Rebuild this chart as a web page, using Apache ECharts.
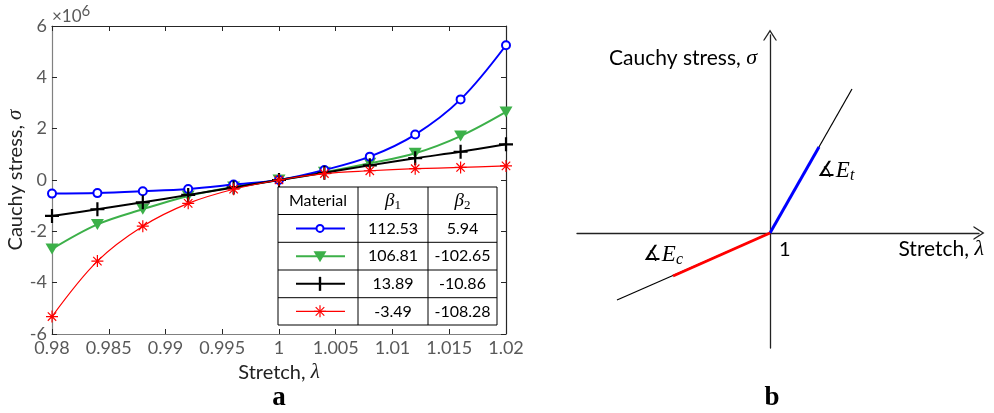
<!DOCTYPE html>
<html>
<head>
<meta charset="utf-8">
<script src="https://cdn.jsdelivr.net/npm/echarts@6/dist/echarts.min.js"></script>
<style>
  html, body { margin: 0; padding: 0; background: #fff; }
  #chart { width: 994px; height: 413px; }
</style>
</head>
<body>
<div id="chart"></div>
<script>
// Stretch values where the stress was sampled
const stretch = [0.98, 0.984, 0.988, 0.992, 0.996, 1, 1.004, 1.008, 1.012, 1.016, 1.02];

// Cauchy stress (x 10^6) for each material
const stressMat1 = [-0.53, -0.51, -0.44, -0.35, -0.18, 0, 0.39, 0.91, 1.77, 3.14, 5.25];
const stressMat2 = [-2.69, -1.73, -1.14, -0.62, -0.27, 0, 0.30, 0.65, 1.04, 1.71, 2.65];
const stressMat3 = [-1.40, -1.14, -0.87, -0.58, -0.29, 0, 0.28, 0.57, 0.85, 1.10, 1.39];
const stressMat4 = [-5.32, -3.16, -1.80, -0.91, -0.36, 0, 0.25, 0.36, 0.44, 0.49, 0.55];

// Material parameters listed in the table
const beta1 = ['112.53', '106.81', '13.89', '-3.49'];
const beta2 = ['5.94', '-102.65', '-10.86', '-108.28'];

// Axis ticks
const xTicks = { min: 0.98, max: 1.02, step: 0.005 };
const yTicks = { min: -6, max: 6, step: 2 };

// Bilinear sketch (panel b): tension and compression branches, in sketch units
const tensionFull = [[0, 0], [82, 144]];
const tensionFit = [[0, 0], [49, 86]];
const compressionFull = [[0, 0], [-153, -67]];
const compressionFit = [[0, 0], [-97, -43]];

const colors = ['#0000ff', '#3cb049', '#000000', '#ff0000'];
const SANS = 'Lato';
const SERIF = 'Liberation Serif';

const plusPath = 'path://M5,0L5,10M0,5L10,5';
const starPath = 'path://M5,0L5,10M0,5L10,5M1.5,1.5L8.5,8.5M1.5,8.5L8.5,1.5';
const chevron = 'path://M0,11L7,0L14,11L12.6,11L7,2.4L1.4,11Z';

function pairs(ys) { return stretch.map((x, i) => [x, ys[i]]); }

const chart = echarts.init(document.getElementById('chart'));

// Table of materials drawn as graphic overlay
const tbl = { cols: [278, 358, 428, 497], rows: [187, 214.5, 242.3, 270, 297.7, 325] };
const tableEls = [];
tableEls.push({ type: 'rect', shape: { x: tbl.cols[0], y: tbl.rows[0], width: tbl.cols[3] - tbl.cols[0], height: tbl.rows[5] - tbl.rows[0] },
  style: { fill: '#fff', stroke: '#000', lineWidth: 1 }, z: 100 });
for (let i = 1; i < 5; i++) {
  tableEls.push({ type: 'line', shape: { x1: tbl.cols[0], y1: tbl.rows[i], x2: tbl.cols[3], y2: tbl.rows[i] }, style: { stroke: '#000', lineWidth: 1 }, z: 101 });
}
for (let j = 1; j < 3; j++) {
  tableEls.push({ type: 'line', shape: { x1: tbl.cols[j], y1: tbl.rows[0], x2: tbl.cols[j], y2: tbl.rows[5] }, style: { stroke: '#000', lineWidth: 1 }, z: 101 });
}
function cellText(txt, col, row, rich) {
  const cx = (tbl.cols[col] + tbl.cols[col + 1]) / 2;
  const cy = (tbl.rows[row] + tbl.rows[row + 1]) / 2;
  return { type: 'text', x: cx, y: cy, z: 102,
    style: { text: txt, align: 'center', verticalAlign: 'middle', font: '16px ' + SANS, fill: '#000', rich: rich } };
}
const betaRich = {
  b: { fontFamily: SERIF, fontStyle: 'italic', fontSize: 19, fill: '#000' },
  s: { fontFamily: SERIF, fontSize: 13, fill: '#000', padding: [9, 0, 0, 0] }
};
tableEls.push(cellText('Material', 0, 0));
tableEls.push(cellText('{b|β}{s|1}', 1, 0, betaRich));
tableEls.push(cellText('{b|β}{s|2}', 2, 0, betaRich));
for (let r = 0; r < 4; r++) {
  tableEls.push(cellText(beta1[r], 1, r + 1));
  tableEls.push(cellText(beta2[r], 2, r + 1));
  const cy = (tbl.rows[r + 1] + tbl.rows[r + 2]) / 2;
  const lw = r === 3 ? 1.3 : 2;
  tableEls.push({ type: 'line', shape: { x1: 296, y1: cy, x2: 345, y2: cy }, style: { stroke: colors[r], lineWidth: lw }, z: 102 });
  const mx = 320;
  if (r === 0) {
    tableEls.push({ type: 'circle', shape: { cx: mx, cy: cy, r: 3.5 }, style: { fill: '#fff', stroke: colors[0], lineWidth: 2 }, z: 103 });
  } else if (r === 1) {
    tableEls.push({ type: 'polygon', shape: { points: [[mx - 6.5, cy - 5], [mx + 6.5, cy - 5], [mx, cy + 6]] }, style: { fill: colors[1] }, z: 103 });
  } else if (r === 2) {
    tableEls.push({ type: 'line', shape: { x1: mx, y1: cy - 7, x2: mx, y2: cy + 7 }, style: { stroke: '#000', lineWidth: 2.4 }, z: 103 });
  } else {
    const a = 6, d = 4.3;
    [[0, -a, 0, a], [-a, 0, a, 0], [-d, -d, d, d], [-d, d, d, -d]].forEach(s => {
      tableEls.push({ type: 'line', shape: { x1: mx + s[0], y1: cy + s[1], x2: mx + s[2], y2: cy + s[3] }, style: { stroke: colors[3], lineWidth: 1.2 }, z: 103 });
    });
  }
}

const frameTick = { show: true, inside: true, length: 5, lineStyle: { color: '#262626', width: 1 } };
const titleRich = {
  t: { fontFamily: SANS, fontSize: 20, color: '#222' },
  m: { fontFamily: SERIF, fontStyle: 'italic', fontSize: 21, color: '#222' }
};
const sketchRich = {
  t: { fontFamily: SANS, fontSize: 21, fill: '#000' },
  m: { fontFamily: SERIF, fontStyle: 'italic', fontSize: 22, fill: '#000' }
};
const slopeRich = {
  a: { fontFamily: 'DejaVu Sans', fontSize: 21, fill: '#000' },
  e: { fontFamily: SERIF, fontStyle: 'italic', fontSize: 23, fill: '#000' },
  s: { fontFamily: SERIF, fontStyle: 'italic', fontSize: 16, fill: '#000', padding: [10, 0, 0, 0] }
};

const option = {
  backgroundColor: '#fff',
  animation: false,
  grid: [
    { left: 52, top: 26, width: 454, height: 308 },
    { left: 577, top: 35, width: 402, height: 313 }
  ],
  xAxis: [
    {
      gridIndex: 0, type: 'value', min: xTicks.min, max: xTicks.max, interval: xTicks.step,
      axisLine: { onZero: false, lineStyle: { color: '#808080', width: 1.2 } },
      axisTick: frameTick,
      splitLine: { show: false },
      axisLabel: { color: '#595959', fontFamily: SANS, fontSize: 18, margin: 5,
        formatter: v => String(+v.toFixed(3)) },
      name: '{t|Stretch, }{m|λ}', nameLocation: 'middle', nameGap: 27,
      nameTextStyle: { rich: titleRich }
    },
    {
      gridIndex: 0, type: 'value', position: 'top', min: xTicks.min, max: xTicks.max, interval: xTicks.step,
      axisLine: { onZero: false, lineStyle: { color: '#262626', width: 1.2 } },
      axisTick: frameTick, axisLabel: { show: false }, splitLine: { show: false }
    },
    {
      gridIndex: 1, type: 'value', min: -193, max: 209,
      axisLine: { onZero: true, symbol: ['none', chevron], symbolSize: [14, 11],
        lineStyle: { color: '#222', width: 1.3 } },
      axisTick: { show: false }, axisLabel: { show: false }, splitLine: { show: false }
    }
  ],
  yAxis: [
    {
      gridIndex: 0, type: 'value', min: yTicks.min, max: yTicks.max, interval: yTicks.step,
      axisLine: { onZero: false, lineStyle: { color: '#808080', width: 1.2 } },
      axisTick: frameTick,
      splitLine: { show: false },
      axisLabel: { color: '#595959', fontFamily: SANS, fontSize: 18, margin: 5 },
      name: '{t|Cauchy stress, }{m|σ}', nameLocation: 'middle', nameGap: 23,
      nameTextStyle: { rich: titleRich }
    },
    {
      gridIndex: 0, type: 'value', position: 'right', min: yTicks.min, max: yTicks.max, interval: yTicks.step,
      axisLine: { onZero: false, lineStyle: { color: '#262626', width: 1.2 } },
      axisTick: frameTick, axisLabel: { show: false }, splitLine: { show: false }
    },
    {
      gridIndex: 1, type: 'value', min: -115, max: 198,
      axisLine: { onZero: true, symbol: ['none', chevron], symbolSize: [14, 11],
        lineStyle: { color: '#222', width: 1.3 } },
      axisTick: { show: false }, axisLabel: { show: false }, splitLine: { show: false }
    }
  ],
  series: [
    { type: 'line', xAxisIndex: 0, yAxisIndex: 0, data: pairs(stressMat1), smooth: 0.35,
      lineStyle: { color: colors[0], width: 2 }, symbol: 'emptyCircle', symbolSize: 8,
      itemStyle: { color: colors[0], borderColor: colors[0], borderWidth: 2 }, z: 4 },
    { type: 'line', xAxisIndex: 0, yAxisIndex: 0, data: pairs(stressMat2), smooth: 0.35,
      lineStyle: { color: colors[1], width: 2 }, symbol: 'triangle', symbolRotate: 180, symbolSize: [13, 11],
      itemStyle: { color: colors[1] }, z: 3 },
    { type: 'line', xAxisIndex: 0, yAxisIndex: 0, data: pairs(stressMat3), smooth: 0.35,
      lineStyle: { color: colors[2], width: 2 }, symbol: plusPath, symbolSize: 14,
      itemStyle: { color: colors[2], borderColor: colors[2], borderWidth: 2.2 }, z: 5 },
    { type: 'line', xAxisIndex: 0, yAxisIndex: 0, data: pairs(stressMat4), smooth: 0.35,
      lineStyle: { color: colors[3], width: 1.2 }, symbol: starPath, symbolSize: 12,
      itemStyle: { color: colors[3], borderColor: colors[3], borderWidth: 1.2 }, z: 6 },

    { type: 'line', xAxisIndex: 2, yAxisIndex: 2, data: tensionFull, symbol: 'none',
      lineStyle: { color: '#000', width: 1.2 }, z: 2 },
    { type: 'line', xAxisIndex: 2, yAxisIndex: 2, data: compressionFull, symbol: 'none',
      lineStyle: { color: '#000', width: 1.2 }, z: 2 },
    { type: 'line', xAxisIndex: 2, yAxisIndex: 2, data: tensionFit, symbol: 'none',
      lineStyle: { color: '#0000ff', width: 3 }, z: 3 },
    { type: 'line', xAxisIndex: 2, yAxisIndex: 2, data: compressionFit, symbol: 'none',
      lineStyle: { color: '#ff0000', width: 3 }, z: 3 }
  ],
  graphic: [
    // exponent of the stress axis
    { type: 'text', left: 52, top: 4, style: { text: '×10{s|6}', font: '17px ' + SANS, fill: '#595959',
      rich: { s: { fontFamily: SANS, fontSize: 15, fill: '#595959', padding: [0, 0, 10, 0] } } } },
    // panel letters
    { type: 'text', x: 279, y: 398, style: { text: 'a', align: 'center', verticalAlign: 'middle',
      font: 'bold 27px ' + SERIF, fill: '#000' } },
    { type: 'text', x: 772, y: 398, style: { text: 'b', align: 'center', verticalAlign: 'middle',
      font: 'bold 27px ' + SERIF, fill: '#000' } },
    // sketch labels
    { type: 'text', x: 757, y: 58, style: { text: '{t|Cauchy stress, }{m|σ}', align: 'right', verticalAlign: 'middle', rich: sketchRich } },
    { type: 'text', x: 984, y: 249, style: { text: '{t|Stretch, }{m|λ}', align: 'right', verticalAlign: 'middle', rich: sketchRich } },
    { type: 'text', x: 779, y: 250, style: { text: '1', align: 'left', verticalAlign: 'middle',
      font: '20px ' + SANS, fill: '#000' } },
    { type: 'text', x: 817, y: 171, style: { text: '{a|∡}{e|E}{s|t}', align: 'left', verticalAlign: 'middle', rich: slopeRich } },
    { type: 'text', x: 643, y: 255, style: { text: '{a|∡}{e|E}{s|c}', align: 'left', verticalAlign: 'middle', rich: slopeRich } }
  ].concat(tableEls)
};

chart.setOption(option);
</script>
</body>
</html>
